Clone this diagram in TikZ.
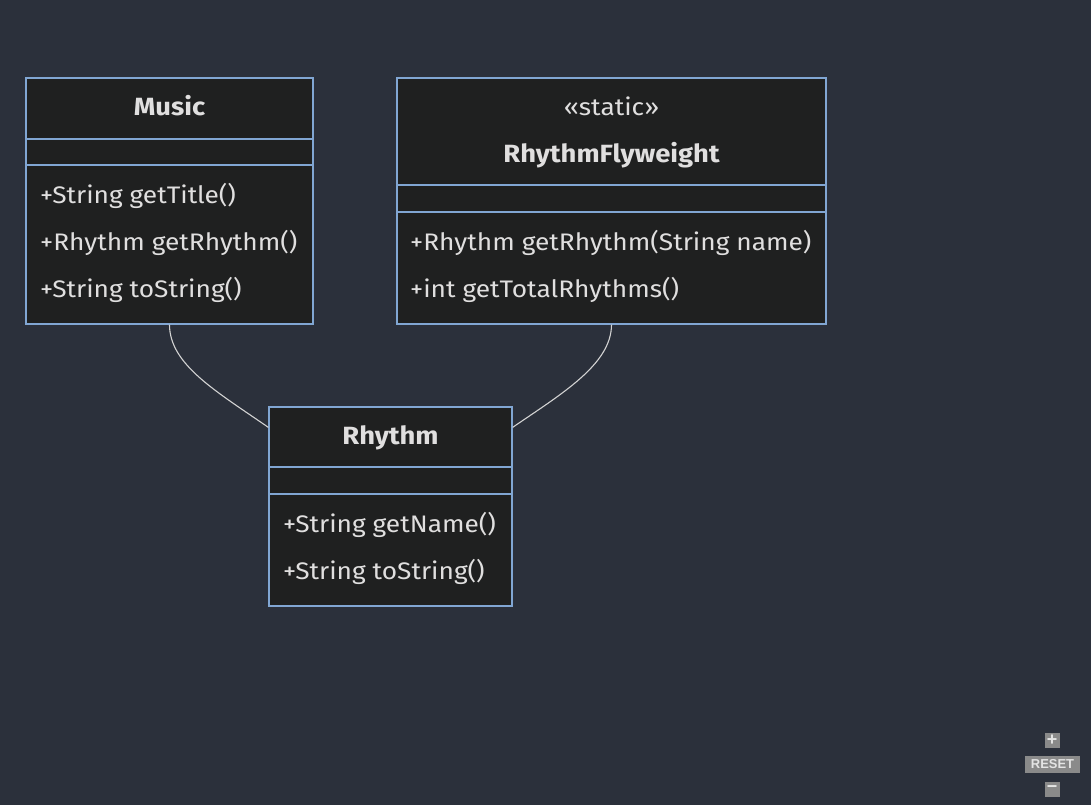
\documentclass[tikz,border=0pt]{standalone}
\usepackage{fontspec}
\setmainfont[FakeStretch=1.1]{Fira Sans}
\newfontfamily\btnfont{Liberation Sans}
\usetikzlibrary{calc}
\definecolor{bg}{HTML}{2B303B}
\definecolor{boxfill}{HTML}{1F2020}
\definecolor{boxline}{HTML}{81A6D3}
\definecolor{txt}{HTML}{E0DFDF}
\definecolor{edge}{HTML}{D3D3D3}
\definecolor{btn}{HTML}{8A8A8A}
\definecolor{btntxt}{HTML}{E4E4E4}
\tikzset{
  classbox/.style={draw=boxline, line width=1.2bp, fill=boxfill, inner sep=0pt},
  divider/.style={draw=boxline, line width=1.2bp},
  member/.style={anchor=base west, inner sep=0pt, text=txt, font=\fontsize{24}{28}\selectfont},
  title/.style={anchor=base, inner sep=0pt, text=txt, font=\fontsize{25}{28}\selectfont\bfseries},
  stereo/.style={anchor=base, inner sep=0pt, text=txt, font=\fontsize{24}{28}\selectfont},
  rel/.style={draw=edge, line width=1.1bp},
  btnbox/.style={fill=btn, inner sep=0pt, text=btntxt, font=\btnfont\bfseries\fontsize{13}{15}\selectfont}
}
\begin{document}
\begin{tikzpicture}[x=1bp, y=-1bp]
\fill[bg] (0,0) rectangle (1091,805);
\useasboundingbox (0,0) rectangle (1091,805);

% Music
\node[classbox, minimum width=287bp, minimum height=246bp] (music) at (169.5,201) {};
\draw[divider] (26,139) -- (313,139);
\draw[divider] (26,165) -- (313,165);
\node[title] (musicT) at (169.5,115) {Music};
\node[member] (m1) at (40,203) {+String getTitle()};
\node[member] (m2) at (40,250) {+Rhythm getRhythm()};
\node[member] (m3) at (40,297) {+String toString()};

% RhythmFlyweight
\node[classbox, minimum width=429bp, minimum height=246bp] (rf) at (611.5,201) {};
\draw[divider] (397,185) -- (826,185);
\draw[divider] (397,212) -- (826,212);
\node[stereo] (rfS) at (611.5,115) {«static»};
\node[title] (rfT) at (611.5,162) {RhythmFlyweight};
\node[member] (f1) at (410,250) {+Rhythm getRhythm(String name)};
\node[member] (f2) at (410,297) {+int getTotalRhythms()};

% Rhythm
\node[classbox, minimum width=243bp, minimum height=199bp] (rh) at (390.5,506.5) {};
\draw[divider] (269,467) -- (512,467);
\draw[divider] (269,494) -- (512,494);
\node[title] (rhT) at (390.5,444) {Rhythm};
\node[member] (r1) at (283,532) {+String getName()};
\node[member] (r2) at (283,579) {+String toString()};

% relations
\coordinate (rhL) at ($(rh.north west)+(0,21)$);
\coordinate (rhR) at ($(rh.north east)+(0,21)$);
\draw[rel] (music.south) .. controls ($(music.south)+(0,40)$) and ($(rhL)+(-52,-36)$) .. (rhL);
\draw[rel] (rf.south) .. controls ($(rf.south)+(0,40)$) and ($(rhR)+(48,-33)$) .. (rhR);

% zoom controls
\node[btnbox, minimum width=15bp, minimum height=15bp, font=\btnfont\bfseries\fontsize{18}{18}\selectfont] (zin) at (1052,740) {+};
\node[btnbox, minimum width=55bp, minimum height=17bp] (zreset) at (1052.5,764.5) {RESET};
\node[btnbox, minimum width=15bp, minimum height=15bp, font=\btnfont\bfseries\fontsize{18}{18}\selectfont] (zout) at (1052,789) {\textminus};
\end{tikzpicture}
\end{document}
